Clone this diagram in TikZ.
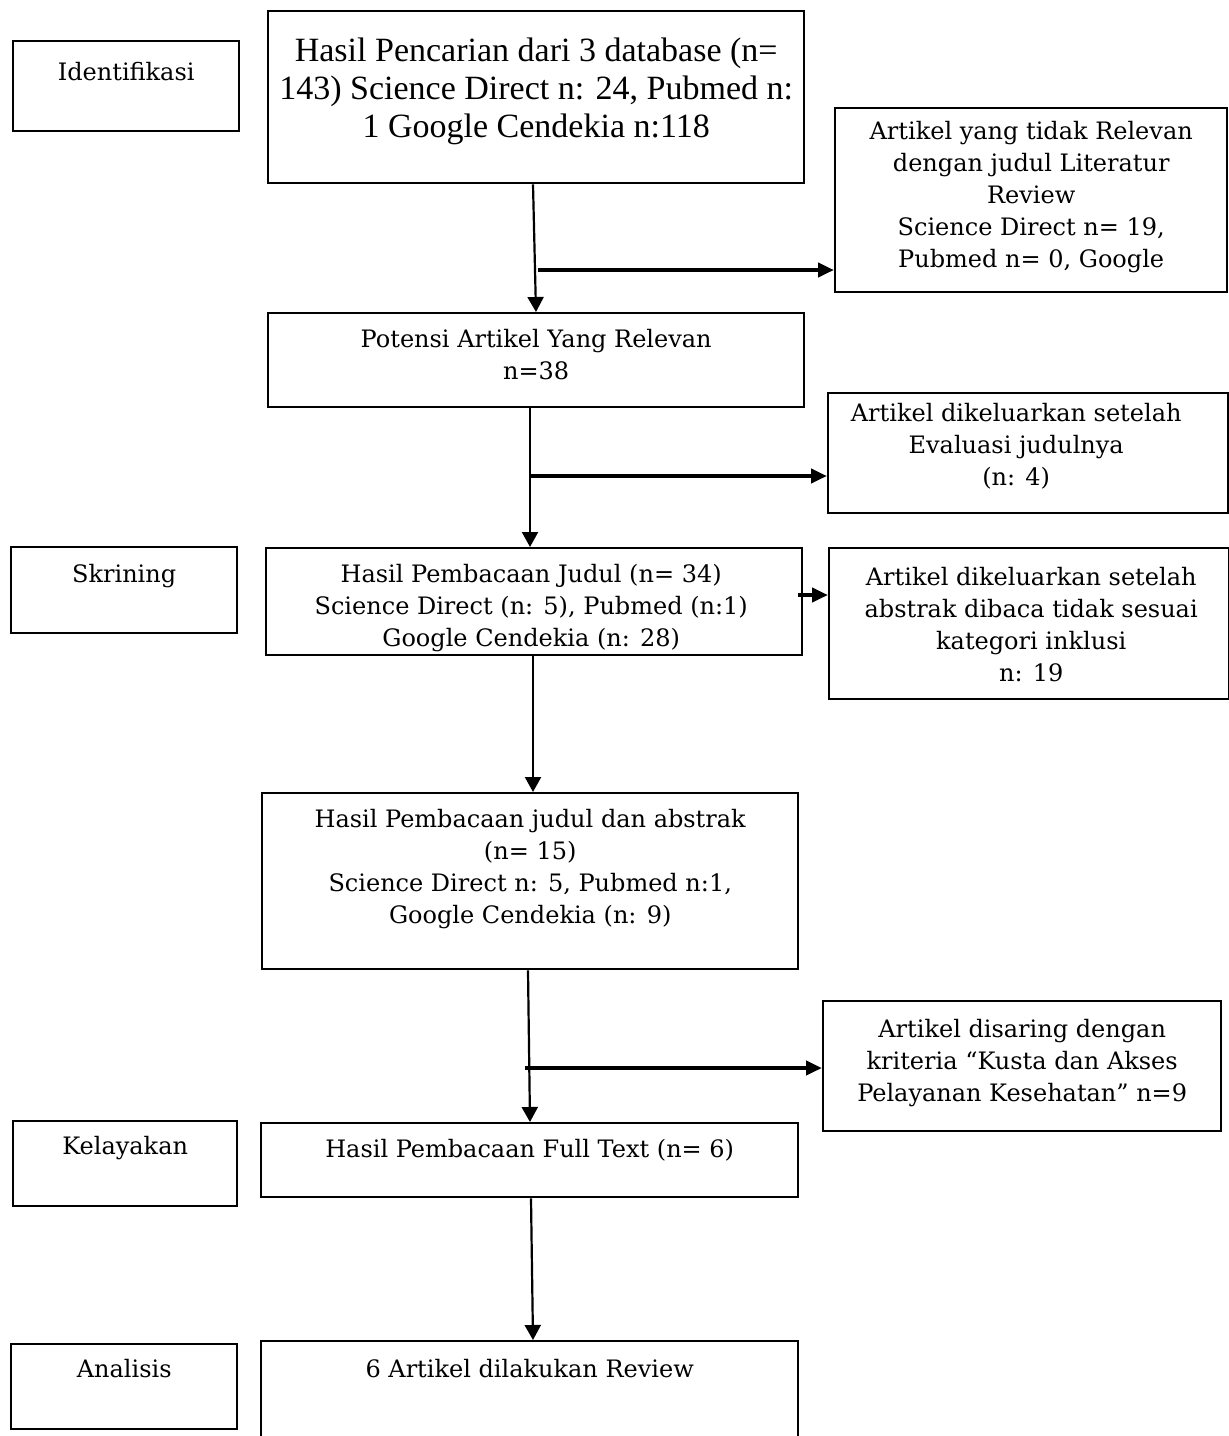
\documentclass[tikz,border=0pt]{standalone}
\usepackage{fontspec}
\setmainfont{DejaVu Serif}
\newfontfamily\timesfont{Liberation Serif}
\usepackage{tikz}
\usetikzlibrary{calc,arrows.meta}

\begin{document}
\begin{tikzpicture}[x=0.5pt,y=0.5pt]
        \tikzstyle{every node}=[inner sep=0pt]
        \tikzstyle{box}=[draw,line width=1.2pt,rectangle,anchor=north west]
        \tikzstyle{txt}=[anchor=north,align=center,font=\fontsize{12}{16}\selectfont]
        \tikzstyle{arr}=[line width=1.1pt,-{Triangle[length=7.5pt,width=8pt]}]
        \tikzstyle{sidearr}=[line width=2pt,-{Triangle[length=8pt,width=7pt]}]

            \useasboundingbox (0,0) rectangle (1228,-1436);

            \node[box,minimum width=113pt,minimum height=45pt] (L1) at (12,-40) {};
            \node[box,minimum width=113pt,minimum height=43pt] (L2) at (10,-546) {};
            \node[box,minimum width=112pt,minimum height=42.5pt] (L3) at (12,-1120) {};
            \node[box,minimum width=113pt,minimum height=42.5pt] (L4) at (10,-1343) {};

            \node[box,minimum width=268pt,minimum height=86pt] (B1) at (267,-10) {};
            \node[box,minimum width=268pt,minimum height=47pt] (B2) at (267,-312) {};
            \node[box,minimum width=268pt,minimum height=53.5pt] (B3) at (265,-547) {};
            \node[box,minimum width=268pt,minimum height=88pt] (B4) at (261,-792) {};
            \node[box,minimum width=268.5pt,minimum height=37pt] (B5) at (260,-1122) {};
            \node[box,minimum width=268.5pt,minimum height=60pt] (B6) at (260,-1340) {};

            \node[box,minimum width=196pt,minimum height=92pt] (R1) at (834,-107) {};
            \node[box,minimum width=200pt,minimum height=60pt] (R2) at (827,-392) {};
            \node[box,minimum width=200pt,minimum height=75.5pt] (R3) at (828,-547) {};
            \node[box,minimum width=199pt,minimum height=65pt] (R4) at (822,-1000) {};

            \node[txt] (T1) at ($(L1.north)+(0,-22)$) {Identifikasi};
            \node[txt] (T2) at ($(L2.north)+(0,-18)$) {Skrining};
            \node[txt] (T3) at ($(L3.north)+(0,-16)$) {Kelayakan};
            \node[txt] (T4) at ($(L4.north)+(0,-16)$) {Analisis};

            \node[txt,font=\timesfont\fontsize{17}{19}\selectfont] (M1) at ($(B1.north)+(0,-28)$)
                {Hasil Pencarian dari 3 database (n=\\143) Science Direct n: 24, Pubmed n:\\1 Google Cendekia n:118};
            \node[txt] (M2) at ($(B2.north)+(0,-17)$) {Potensi Artikel Yang Relevan\\n=38};
            \node[txt] (M3) at ($(B3.north)+(-3,-17)$)
                {Hasil Pembacaan Judul (n= 34)\\Science Direct (n: 5), Pubmed (n:1)\\Google Cendekia (n: 28)};
            \node[txt] (M4) at ($(B4.north)+(0,-17)$)
                {Hasil Pembacaan judul dan abstrak\\(n= 15)\\Science Direct n: 5, Pubmed n:1,\\Google Cendekia (n: 9)};
            \node[txt] (M5) at ($(B5.north)+(0,-17)$) {Hasil Pembacaan Full Text (n= 6)};
            \node[txt] (M6) at ($(B6.north)+(0,-19)$) {6 Artikel dilakukan Review};

            \node[txt] (S1) at ($(R1.north)+(0,-14)$)
                {Artikel yang tidak Relevan\\dengan judul Literatur\\Review\\Science Direct n= 19,\\Pubmed n= 0, Google};
            \node[txt] (S2) at ($(R2.north)+(-12,-11)$)
                {Artikel dikeluarkan setelah\\Evaluasi judulnya\\(n: 4)};
            \node[txt] (S3) at ($(R3.north)+(2,-20)$)
                {Artikel dikeluarkan setelah\\abstrak dibaca tidak sesuai\\kategori inklusi\\n: 19};
            \node[txt] (S4) at ($(R4.north)+(0,-19)$)
                {Artikel disaring dengan\\kriteria “Kusta dan Akses\\Pelayanan Kesehatan” n=9};

            \coordinate (J1) at (538,-270);
            \coordinate (J2) at (530,-476);
            \coordinate (J3) at (798,-595);
            \coordinate (J4) at (525,-1068);

            \draw[arr] ($(B1.south west)+(266,0)$) -- ($(B2.north west)+(269,0)$);
            \draw[arr] ($(B2.south west)+(263,0)$) -- ($(B3.north west)+(265,0)$);
            \draw[arr] ($(B3.south west)+(268,0)$) -- ($(B4.north west)+(272,0)$);
            \draw[arr] ($(B4.south west)+(267,0)$) -- ($(B5.north west)+(270,0)$);
            \draw[arr] ($(B5.south west)+(271,0)$) -- ($(B6.north west)+(273,0)$);

            \draw[sidearr] (J1) -- (J1 -| R1.west);
            \draw[sidearr] (J2) -- (J2 -| R2.west);
            \draw[sidearr] (J3) -- (J3 -| R3.west);
            \draw[sidearr] (J4) -- (J4 -| R4.west);

        \end{tikzpicture}
\end{document}
